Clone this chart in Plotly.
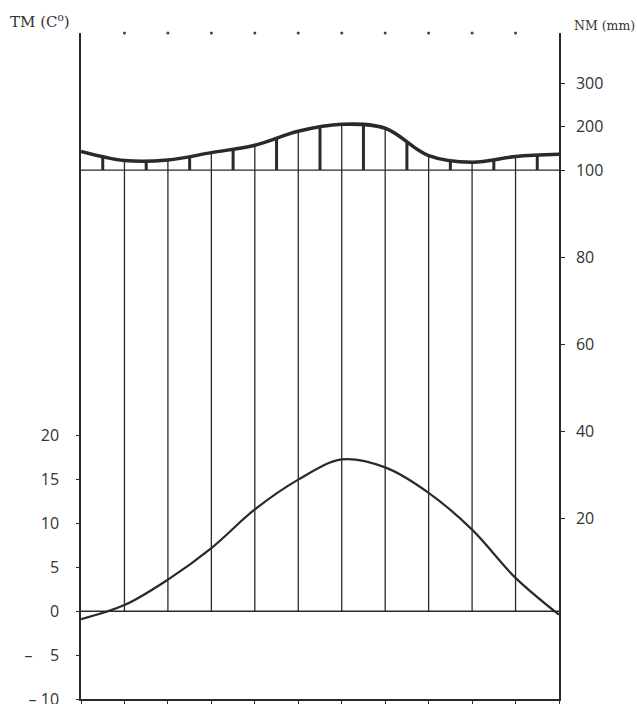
import plotly.graph_objects as go

# ---- data ----
MONTHS = ["J", "F", "M", "A", "M", "J", "J", "A", "S", "O", "N", "D"]
TEMP = [-0.9, 0.7, 3.6, 7.2, 11.6, 15.0, 17.3, 16.4, 13.5, 9.3, 3.8, -0.4]   # TM (°C)
PRECIP = [143, 122, 123, 140, 157, 189, 205, 196, 133, 118, 131, 136]         # NM (mm)

T_TICKS = [-10, -5, 0, 5, 10, 15, 20]
T_TICKTEXT = ["\u2013 10", "\u2013 \u2007 5", "0", "5", "10", "15", "20"]
P_TICKS = [20, 40, 60, 80, 100, 200, 300]

# ---- scales ----
T_RANGE = [-10, 65.9]
U_RANGE = [-21.6, 131.5]          # right axis in "scaled mm" (1/10 above 100 mm)


def p_scale(p):
    return p if p <= 100 else 100 + (p - 100) / 10.0


def t_to_u(t):
    f = (t - T_RANGE[0]) / (T_RANGE[1] - T_RANGE[0])
    return U_RANGE[0] + f * (U_RANGE[1] - U_RANGE[0])


x = list(range(len(MONTHS)))
u = [p_scale(p) for p in PRECIP]
n = len(u)

INK = "#2a2a2a"
fig = go.Figure()

# thin month lines from 0 °C up to the precipitation curve
vx, vy = [], []
u0 = t_to_u(0)
for i in range(1, n - 1):
    vx += [x[i], x[i], None]
    vy += [u0, u[i], None]
fig.add_trace(go.Scatter(x=vx, y=vy, yaxis="y2", mode="lines",
                         line=dict(color=INK, width=1.3), hoverinfo="skip"))

# thick hatch lines between months (humid part above 100 mm)
hx, hy = [], []
for i in range(n - 1):
    a = u[max(i - 1, 0)]
    b = u[i]
    c = u[i + 1]
    d = u[min(i + 2, n - 1)]
    mid = (-a + 9 * b + 9 * c - d) / 16.0
    hx += [x[i] + 0.5, x[i] + 0.5, None]
    hy += [100, mid, None]
fig.add_trace(go.Scatter(x=hx, y=hy, yaxis="y2", mode="lines",
                         line=dict(color=INK, width=3), hoverinfo="skip"))

# 100 mm line
fig.add_trace(go.Scatter(x=[x[0], x[-1]], y=[100, 100], yaxis="y2", mode="lines",
                         line=dict(color=INK, width=1.3), hoverinfo="skip"))

# 0 °C line
fig.add_trace(go.Scatter(x=[x[0], x[-1]], y=[0, 0], mode="lines",
                         line=dict(color=INK, width=1.3), hoverinfo="skip"))

# precipitation curve
fig.add_trace(go.Scatter(x=x, y=u, yaxis="y2", mode="lines",
                         line=dict(color=INK, width=3.5, shape="spline", smoothing=1),
                         hoverinfo="skip"))

# temperature curve
fig.add_trace(go.Scatter(x=x, y=TEMP, mode="lines",
                         line=dict(color=INK, width=2.2, shape="spline", smoothing=1),
                         hoverinfo="skip"))

# dots along the top
fig.add_trace(go.Scatter(x=x[1:-1], y=[65.9] * (n - 2), mode="markers",
                         marker=dict(color="#444", size=3), cliponaxis=False,
                         hoverinfo="skip"))

fig.update_layout(
    width=637, height=704,
    margin=dict(l=81, r=78, t=33, b=5, autoexpand=False),
    paper_bgcolor="white", plot_bgcolor="white",
    showlegend=False,
    font=dict(family="Open Sans", size=16, color="#333"),
    xaxis=dict(range=[x[0], x[-1]], tickvals=x, showticklabels=False,
               ticks="outside", ticklen=4, tickcolor=INK, tickwidth=1.2,
               showline=True, linecolor=INK, linewidth=1.5, automargin=False,
               showgrid=False, zeroline=False, fixedrange=True),
    yaxis=dict(range=T_RANGE, tickvals=T_TICKS, ticktext=T_TICKTEXT,
               ticks="outside", ticklen=3, tickcolor=INK, tickwidth=1.2,
               ticklabelstandoff=14, ticklabeloverflow="allow", automargin=False,
               showline=True, linecolor=INK, linewidth=1.5,
               showgrid=False, zeroline=False, fixedrange=True),
    yaxis2=dict(range=U_RANGE, overlaying="y", side="right",
                tickvals=[p_scale(p) for p in P_TICKS],
                ticktext=[str(p) for p in P_TICKS],
                ticks="outside", ticklen=4, tickcolor=INK, tickwidth=1.2,
                ticklabelstandoff=8, automargin=False,
                showline=True, linecolor=INK, linewidth=1.5,
                showgrid=False, zeroline=False, fixedrange=True),
    annotations=[
        dict(text="TM (C<sup>o</sup>)", xref="paper", yref="paper",
             x=-73 / 478, y=1 + 12 / 666, xanchor="left", yanchor="middle",
             showarrow=False, font=dict(family="DejaVu Serif", size=15, color="#333")),
        dict(text="NM (mm)", xref="paper", yref="paper",
             x=1 + 13 / 478, y=1 + 8 / 666, xanchor="left", yanchor="middle",
             showarrow=False, font=dict(family="DejaVu Serif", size=12.5, color="#333")),
    ],
)

fig.write_html("out.html", config={"displayModeBar": False},
               post_script="document.body.style.margin='0px';")
